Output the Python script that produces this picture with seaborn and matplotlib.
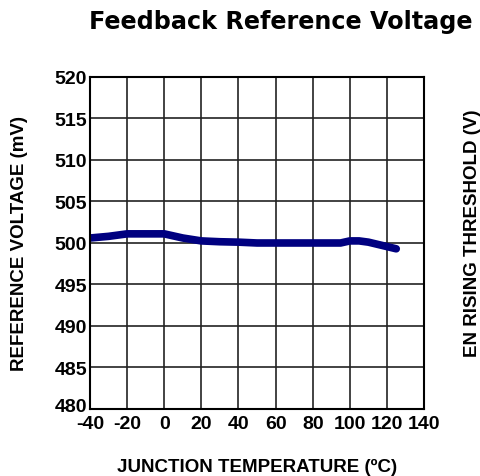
import pandas as pd
import matplotlib
matplotlib.use("Agg")
import matplotlib.pyplot as plt
import matplotlib.transforms as mtransforms
import seaborn as sns

# data
temperature = [-40, -30, -20, -10, 0, 10, 20, 30, 40, 50, 60, 70, 80, 90, 95, 100, 105, 110, 125]
ref_voltage = [500.6, 500.8, 501.1, 501.1, 501.1, 500.6, 500.25, 500.15, 500.1, 500.0, 500.0, 500.0, 500.0, 500.0, 500.0, 500.25, 500.25, 500.1, 499.3]
x_ticks = [-40, -20, 0, 20, 40, 60, 80, 100, 120, 140]
y_ticks = [480, 485, 490, 495, 500, 505, 510, 515, 520]

df = pd.DataFrame({"temp": temperature, "vref": ref_voltage})

sns.set_style("white")
plt.rcParams["font.family"] = ["Liberation Sans", "DejaVu Sans"]
plt.rcParams["axes.unicode_minus"] = False
plt.rcParams["text.color"] = "black"
plt.rcParams["axes.labelcolor"] = "black"

fig = plt.figure(figsize=(4.8, 4.77), dpi=100)
ax = fig.add_axes([0.1875, 0.1405, 0.696, 0.696])

sns.lineplot(data=df, x="temp", y="vref", ax=ax, color="#000080", linewidth=5.5)

ax.set_xlim(-40, 140)
ax.set_ylim(480, 520)
ax.set_xticks(x_ticks)
ax.set_yticks(y_ticks)
ax.grid(True, color="#222222", linewidth=1.2)
ax.set_axisbelow(True)
for s in ax.spines.values():
    s.set_color("black")
    s.set_linewidth(1.5)
ax.tick_params(axis="y", length=0, pad=2, labelsize=14, colors="black")
ax.tick_params(axis="x", length=0, pad=4, labelsize=14, colors="black")
for lab in ax.get_xticklabels() + ax.get_yticklabels():
    lab.set_fontweight("bold")

# lift the bottom y label a little so it clears "-40"
bottom_lab = ax.get_yticklabels()[0]
bottom_lab.set_transform(bottom_lab.get_transform() +
                         mtransforms.ScaledTranslation(0, 4 / 100, fig.dpi_scale_trans))

ax.set_xlabel("JUNCTION TEMPERATURE (ºC)", fontsize=13.5, fontweight="bold", labelpad=19)
ax.set_ylabel("REFERENCE VOLTAGE (mV)", fontsize=13.5, fontweight="bold", labelpad=19)

fig.text(0.585, 0.953, "Feedback Reference Voltage", fontsize=17.2, fontweight="bold",
         family="DejaVu Sans", ha="center", va="center")
fig.text(0.984, 0.51, "EN RISING THRESHOLD (V)", fontsize=13.5, fontweight="bold",
         rotation=90, ha="center", va="center")

fig.savefig("out.png", dpi=100)
